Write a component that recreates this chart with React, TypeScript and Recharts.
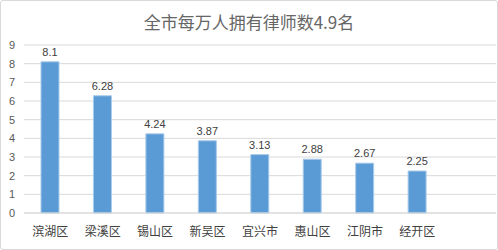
import { Bar, BarChart, CartesianGrid, LabelList, XAxis, YAxis } from "recharts";

const districts = ["滨湖区", "梁溪区", "锡山区", "新吴区", "宜兴市", "惠山区", "江阴市", "经开区"];
const lawyersPer10k = [8.1, 6.28, 4.24, 3.87, 3.13, 2.88, 2.67, 2.25];
const yTicks = [0, 1, 2, 3, 4, 5, 6, 7, 8, 9];

const title = "全市每万人拥有律师数4.9名";
const font = "'Liberation Sans', 'Noto Sans CJK SC', sans-serif";

// Excel leaves one empty slot at the right end of the category axis
const data = [
  ...districts.map((name, i) => ({ name, value: lawyersPer10k[i] })),
  { name: "", value: null },
];

export default function App() {
  return (
    <div
      style={{
        position: "absolute",
        left: 0,
        top: 0,
        width: 498,
        height: 250,
        boxSizing: "border-box",
        border: "1px solid #d9d9d9",
        borderRadius: 3,
        background: "#fff",
        fontFamily: font,
      }}
    >
      <div
        style={{
          position: "absolute",
          left: 0,
          right: 0,
          top: 9,
          textAlign: "center",
          fontSize: 17,
          color: "#666666",
          fontFamily: "'Noto Sans CJK SC', sans-serif",
          lineHeight: "24px",
        }}
      >
        {title}
      </div>
      <div style={{ position: "absolute", left: -1, top: -1 }}>
        <BarChart
          width={498}
          height={250}
          data={data}
          margin={{ top: 45, right: 2, bottom: 7, left: 0 }}
          barCategoryGap={0}
        >
          <CartesianGrid vertical={false} stroke="#d9d9d9" />
          <XAxis
            dataKey="name"
            height={30}
            tickLine={false}
            axisLine={{ stroke: "#d9d9d9" }}
            interval={0}
            tick={{ fill: "#404040", fontSize: 12, fontFamily: "'Noto Sans CJK SC', sans-serif" }}
            tickMargin={8}
          />
          <YAxis
            width={24}
            domain={[0, 9]}
            ticks={yTicks}
            tickLine={false}
            axisLine={false}
            interval={0}
            tick={{ fill: "#595959", fontSize: 11, fontFamily: font, textAnchor: "middle", dx: -6 }}
            tickMargin={0}
          />
          <Bar
            dataKey="value"
            fill="#5b9bd5"
            stroke="#a9cbea"
            strokeWidth={1}
            barSize={18}
            isAnimationActive={false}
          >
            <LabelList
              dataKey="value"
              position="top"
              offset={6}
              fill="#404040"
              fontSize={11}
              fontFamily={font}
            />
          </Bar>
        </BarChart>
      </div>
    </div>
  );
}
